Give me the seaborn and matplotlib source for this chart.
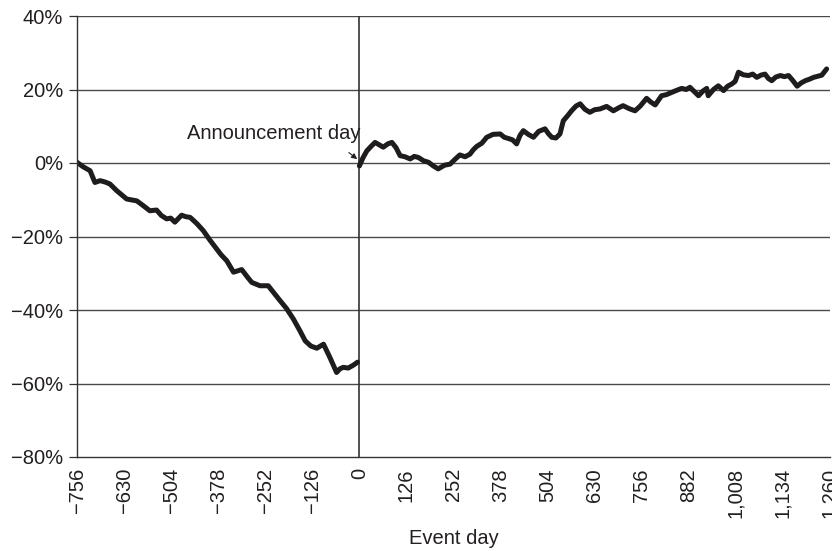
"""Cumulative abnormal return around the announcement day."""
import matplotlib
matplotlib.use("Agg")
import matplotlib.pyplot as plt
from matplotlib.ticker import FuncFormatter
import pandas as pd
import seaborn as sns

# pre-announcement window (event day, cumulative return in %)
pre_days = [-756, -740, -721, -708, -694, -680, -668, -650, -623, -596, -580,
            -561, -543, -530, -516, -505, -494, -476, -465, -453, -435, -418,
            -400, -382, -370, -355, -337, -315, -300, -288, -266, -244, -230,
            -212, -195, -177, -160, -145, -130, -114, -96, -79, -61, -52, -43,
            -30, -16, -5]
pre_ret = [0.2, -1.0, -2.1, -5.3, -4.8, -5.2, -5.7, -7.5, -9.8, -10.3, -11.5,
           -13.0, -12.8, -14.3, -15.2, -15.0, -16.1, -14.2, -14.6, -14.8, -16.5,
           -18.4, -21.0, -23.4, -25.0, -26.6, -29.7, -29.0, -31.0, -32.5, -33.4,
           -33.4, -35.2, -37.5, -39.6, -42.4, -45.5, -48.4, -49.8, -50.4, -49.3,
           -52.9, -57.0, -56.0, -55.6, -55.8, -55.0, -54.2]

# post-announcement window
post_days = [0, 10, 20, 32, 42, 54, 64, 76, 87, 98, 109, 122, 136, 147, 158,
             172, 185, 198, 211, 228, 243, 256, 269, 283, 296, 305, 314, 328,
             341, 358, 377, 388, 398, 410, 421, 430, 439, 452, 466, 480, 497,
             506, 515, 526, 537, 546, 557, 568, 580, 591, 604, 617, 630, 644,
             662, 680, 694, 706, 722, 738, 752, 769, 780, 792, 809, 822, 836,
             850, 863, 875, 885, 897, 908, 920, 930, 934, 948, 961, 975, 986,
             997, 1006, 1015, 1028, 1042, 1053, 1064, 1075, 1086, 1095, 1104,
             1115, 1127, 1138, 1149, 1160, 1172, 1183, 1194, 1205, 1216, 1227,
             1238, 1251]
post_ret = [-0.8, 1.5, 3.3, 4.6, 5.6, 4.9, 4.3, 5.2, 5.6, 4.2, 2.0, 1.7, 1.1,
            1.8, 1.5, 0.6, 0.2, -0.8, -1.6, -0.6, -0.3, 1.0, 2.2, 1.7, 2.4, 3.6,
            4.5, 5.4, 7.0, 7.8, 7.9, 7.0, 6.7, 6.3, 5.2, 7.5, 8.8, 7.8, 7.0,
            8.6, 9.3, 8.0, 7.0, 6.8, 7.9, 11.5, 12.8, 14.2, 15.5, 16.1, 14.6,
            13.8, 14.5, 14.7, 15.4, 14.2, 15.0, 15.6, 14.8, 14.2, 15.5, 17.6,
            16.6, 15.8, 18.3, 18.6, 19.2, 19.8, 20.3, 20.0, 20.6, 19.4, 18.3,
            19.6, 20.3, 18.3, 20.0, 21.0, 19.7, 20.9, 21.5, 22.2, 24.7, 24.0,
            23.8, 24.2, 23.3, 23.9, 24.2, 23.0, 22.4, 23.4, 23.8, 23.5, 23.8,
            22.5, 20.9, 21.8, 22.4, 22.8, 23.3, 23.6, 23.9, 25.6]

x_ticks = [-756, -630, -504, -378, -252, -126, 0, 126, 252, 378, 504, 630,
           756, 882, 1008, 1134, 1260]
y_ticks = [-80, -60, -40, -20, 0, 20, 40]

LINE_COLOR = "#1e1c1d"
INK = "#231f20"
GRID = "#4a4a4a"


def minus(s):
    return s.replace("-", "\u2212")


pre = pd.DataFrame({"day": pre_days, "ret": pre_ret})
post = pd.DataFrame({"day": post_days, "ret": post_ret})

sns.set_theme(style="white")
plt.rcParams["font.family"] = ["Liberation Sans", "DejaVu Sans"]

fig = plt.figure(figsize=(8.32, 5.51), dpi=100)
ax = fig.add_axes([77 / 832, 94 / 551, 753 / 832, 441 / 551])

for seg in (pre, post):
    sns.lineplot(data=seg, x="day", y="ret", ax=ax, color=LINE_COLOR,
                 linewidth=3.6, estimator=None, sort=False)

ax.set_xlim(-756, 1260)
ax.set_ylim(-80, 40)
ax.set_xticks(x_ticks)
ax.set_yticks(y_ticks)
ax.xaxis.set_major_formatter(FuncFormatter(lambda v, _: minus(f"{int(v):,}")))
ax.yaxis.set_major_formatter(FuncFormatter(lambda v, _: minus(f"{int(v)}%")))

for y in y_ticks[1:]:
    ax.axhline(y, color=GRID, linewidth=1.0, zorder=0)
ax.axvline(0, color="#333333", linewidth=1.2, zorder=1)

for side in ("top", "right"):
    ax.spines[side].set_visible(False)
for side in ("left", "bottom"):
    ax.spines[side].set_color("#333333")
    ax.spines[side].set_linewidth(1.0)

ax.tick_params(axis="x", direction="in", length=5, width=0.9, color="#333333",
               labelsize=14.5, labelcolor=INK, rotation=90, pad=8)
ax.tick_params(axis="y", direction="out", length=6, width=0.9, color="#333333",
               labelsize=14.5, labelcolor=INK, pad=4, left=True)

ax.set_xlabel("Event day", fontsize=14.5, color=INK, labelpad=8)
ax.set_ylabel("")

ax.text(2, 7.9, "Announcement day", ha="right", va="center",
        fontsize=14.5, color=INK)
ax.annotate("", xy=(0, 0.6), xytext=(-34, 3.3),
            arrowprops=dict(arrowstyle="-|>", color=INK, lw=0.8,
                            mutation_scale=8))

fig.savefig("out.png", dpi=100)
plt.close(fig)
